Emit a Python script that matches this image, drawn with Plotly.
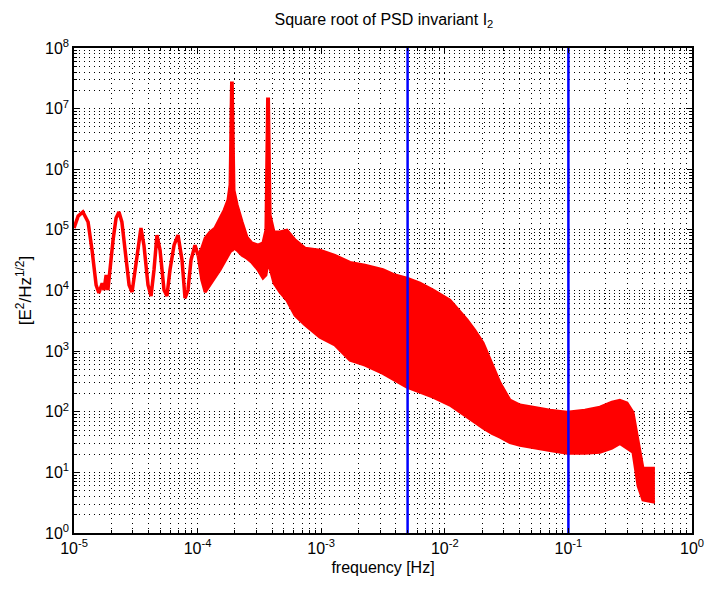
import plotly.graph_objects as go

# Low-frequency single-line section
line_freq = [1.0e-5, 1.08e-5, 1.18e-5, 1.30e-5, 1.40e-5, 1.51e-5, 1.59e-5, 1.69e-5, 1.75e-5,
             1.82e-5, 1.88e-5, 1.95e-5, 2.07e-5, 2.19e-5, 2.31e-5, 2.44e-5, 2.64e-5, 2.79e-5,
             2.95e-5, 3.12e-5, 3.30e-5, 3.48e-5, 3.68e-5, 3.97e-5, 4.20e-5, 4.44e-5, 4.69e-5,
             4.97e-5, 5.35e-5, 5.65e-5, 5.98e-5, 6.45e-5, 6.94e-5, 7.48e-5, 7.91e-5, 8.36e-5,
             8.85e-5, 9.53e-5, 1.007e-4]
line_val = [1.07e5, 1.69e5, 1.97e5, 1.35e5, 4.6e4, 1.23e4, 9.1e3, 1.32e4, 1.02e4,
            1.8e4, 1.02e4, 2.2e4, 6.8e4, 1.57e5, 1.97e5, 1.35e5, 3.8e4, 1.23e4,
            9.4e3, 2.2e4, 5.6e4, 1.07e5, 5.6e4, 1.23e4, 8.1e3, 2.2e4, 8.2e4,
            4.6e4, 1.02e4, 8.1e3, 2.2e4, 5.6e4, 8.2e4, 3.2e4, 7.5e3, 1.02e4,
            3.2e4, 5.6e4, 3.8e4]

# Noisy band section: upper and lower envelope
band_freq = [1.007e-4, 1.08e-4, 1.15e-4, 1.26e-4, 1.38e-4, 1.52e-4, 1.64e-4, 1.76e-4, 1.83e-4, 1.88e-4,
             1.91e-4, 1.97e-4, 2.09e-4, 2.29e-4, 2.51e-4, 2.75e-4, 3.08e-4, 3.38e-4, 3.57e-4,
             3.68e-4, 3.75e-4, 3.86e-4, 4.15e-4, 4.64e-4, 5.28e-4, 6.14e-4, 7.40e-4, 9.77e-4,
             1.29e-3, 1.71e-3, 2.26e-3, 3.16e-3, 3.95e-3, 4.94e-3, 6.29e-3, 8.03e-3, 1.10e-2,
             1.51e-2, 1.75e-2, 2.04e-2, 2.41e-2, 2.80e-2, 3.37e-2, 4.06e-2, 5.18e-2, 7.10e-2,
             9.75e-2, 0.136, 0.180, 0.225, 0.261, 0.298, 0.333, 0.366, 0.401, 0.501]
band_upper = [3.8e4, 5.0e4, 7.3e4, 9.2e4, 1.07e5, 1.57e5, 2.12e5, 3.1e5, 5.5e5, 2.64e7,
              2.64e7, 4.5e5, 2.56e5, 1.35e5, 7.6e4, 6.1e4, 5.6e4, 6.1e4, 9.9e4,
              1.44e7, 1.44e7, 1.75e5, 9.2e4, 9.2e4, 9.9e4, 6.8e4, 5.0e4, 4.6e4,
              3.8e4, 2.9e4, 2.6e4, 2.2e4, 1.8e4, 1.6e4, 1.32e4, 1.02e4, 6.9e3,
              3.3e3, 2.2e3, 1.36e3, 590, 297, 155, 129, 119, 106,
              98, 106, 119, 144, 155, 140, 98, 34, 11.7, 11.7]
band_lower = [3.8e4, 1.5e4, 9.4e3, 1.23e4, 1.6e4, 2.2e4, 2.9e4, 3.8e4, 4.3e4, 4.6e4,
              4.6e4, 5.0e4, 4.6e4, 3.8e4, 3.4e4, 2.9e4, 2.2e4, 1.6e4, 1.8e4,
              2.6e4, 2.6e4, 2.3e4, 1.32e4, 9.4e3, 6.9e3, 3.9e3, 2.7e3, 1.7e3,
              1.26e3, 710, 590, 430, 330, 255, 210, 174, 129,
              81, 67, 54, 44, 38, 31, 28, 26, 23,
              20.7, 20.7, 21.5, 25, 30, 25, 21.5, 6.0, 3.5, 3.2]

vline_freqs = [5e-3, 0.1]
y_range_vals = [1, 1e8]

x_tick_exps = [-5, -4, -3, -2, -1, 0]
y_tick_exps = [0, 1, 2, 3, 4, 5, 6, 7, 8]
minor_mult = [2, 3, 4, 5, 6, 7, 8, 9]

FONT = "Liberation Sans, Arial, sans-serif"
RED = "#ff0000"

fig = go.Figure()
fig.add_trace(go.Scatter(x=line_freq, y=line_val, mode="lines",
                         line=dict(color=RED, width=3.5), hoverinfo="skip"))
fig.add_trace(go.Scatter(x=band_freq, y=band_lower, mode="lines",
                         line=dict(color=RED, width=3), hoverinfo="skip"))
fig.add_trace(go.Scatter(x=band_freq, y=band_upper, mode="lines", fill="tonexty",
                         fillcolor=RED, line=dict(color=RED, width=3), hoverinfo="skip"))
for v in vline_freqs:
    fig.add_trace(go.Scatter(x=[v, v], y=y_range_vals, mode="lines",
                             line=dict(color="#0000ff", width=2.5), hoverinfo="skip"))


def axis_style(exps):
    return dict(
        type="log", showline=True, linecolor="black", linewidth=1.5, mirror="ticks",
        ticks="inside", ticklen=5, tickcolor="black", automargin=False,
        showgrid=True, gridcolor="black", griddash="1px,4px", gridwidth=1, zeroline=False,
        tickfont=dict(family=FONT, size=16, color="black"),
        tickmode="array",
        tickvals=[10 ** e for e in exps],
        ticktext=["10<sup>%d</sup>" % e for e in exps],
        minor=dict(ticks="inside", ticklen=3, tickcolor="black", showgrid=True,
                   gridcolor="black", griddash="1px,4px", gridwidth=1,
                   tickmode="array",
                   tickvals=[m * 10 ** e for e in exps[:-1] for m in minor_mult]),
    )


fig.update_layout(
    width=711, height=591,
    margin=dict(l=74, r=19, t=48, b=58),
    paper_bgcolor="white", plot_bgcolor="white",
    showlegend=False,
    font=dict(family=FONT, color="black"),
    title=dict(text="Square root of PSD invariant I<sub>2</sub>", x=0.54, xanchor="center",
               y=0.968, yanchor="middle", font=dict(family=FONT, size=16, color="black")),
    xaxis=dict(axis_style(x_tick_exps), range=[-5, 0],
               title=dict(text="frequency [Hz]", font=dict(family=FONT, size=16), standoff=6)),
    yaxis=dict(axis_style(y_tick_exps), range=[0, 8],
               title=dict(text="[E<sup>2</sup>/Hz<sup>1/2</sup>]", font=dict(family=FONT, size=17), standoff=9)),
)

fig.write_html("out.html")
